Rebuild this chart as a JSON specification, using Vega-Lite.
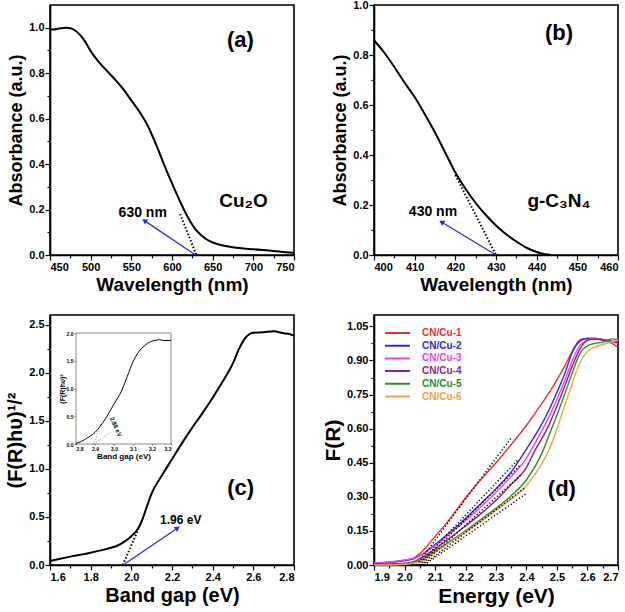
{
  "$schema": "https://vega.github.io/schema/vega-lite/v6.json",
  "background": "white",
  "padding": {"left": 4, "top": -2, "right": 0, "bottom": 0},
  "columns": 2,
  "spacing": {"row": 19, "column": 22},
  "config": {
    "font": "Liberation Sans",
    "view": {"stroke": "black", "strokeWidth": 1.6},
    "axis": {
      "labelFont": "Liberation Sans", "labelFontWeight": "bold", "labelFontSize": 11, "labelColor": "black",
      "titleFont": "Liberation Sans", "titleFontWeight": "bold", "titleColor": "black",
      "domainColor": "black", "domainWidth": 1.6, "tickColor": "black", "tickWidth": 1.2,
      "grid": false, "labelPadding": 1, "titlePadding": 3, "labelOverlap": false
    },
    "text": {"font": "Liberation Sans", "fontWeight": "bold", "color": "black"}
  },
  "concat": [
    {
      "width": 244, "height": 250,
      "encoding": {
        "x": {"field": "x", "type": "quantitative",
          "scale": {"domain": [450, 750], "nice": false, "zero": false},
          "axis": {"title": "Wavelength (nm)", "titleFontSize": 19,
            "values": [450,475,500,525,550,575,600,625,650,675,700,725,750],
            "labelExpr": "datum.value % 50 == 0 ? datum.label : ''",
            "tickSize": {"condition": {"test": "datum.value % 50 == 0", "value": 5}, "value": 3}}},
        "y": {"field": "y", "type": "quantitative",
          "scale": {"domain": [0, 1.1], "nice": false, "zero": false},
          "axis": {"title": "Absorbance (a.u.)", "titleFontSize": 18,
            "values": [0,0.1,0.2,0.3,0.4,0.5,0.6,0.7,0.8,0.9,1.0],
            "labelExpr": "abs(datum.value*5 - round(datum.value*5)) < 0.001 ? format(datum.value, '.1f') : ''",
            "tickSize": {"condition": {"test": "abs(datum.value*5 - round(datum.value*5)) < 0.001", "value": 5}, "value": 3}}}
      },
      "layer": [
        {"data": {"values": [
          {"x":450,"y":0.993},{"x":455,"y":0.992},{"x":460,"y":0.996},{"x":465,"y":0.998},{"x":470,"y":1.0},
          {"x":475,"y":0.998},{"x":480,"y":0.99},{"x":485,"y":0.975},{"x":490,"y":0.955},{"x":495,"y":0.928},
          {"x":500,"y":0.897},{"x":510,"y":0.85},{"x":520,"y":0.81},{"x":530,"y":0.772},{"x":540,"y":0.73},
          {"x":550,"y":0.68},{"x":560,"y":0.63},{"x":570,"y":0.57},{"x":580,"y":0.49},{"x":590,"y":0.4},
          {"x":600,"y":0.315},{"x":610,"y":0.235},{"x":620,"y":0.163},{"x":630,"y":0.108},{"x":640,"y":0.075},
          {"x":650,"y":0.055},{"x":660,"y":0.044},{"x":675,"y":0.034},{"x":700,"y":0.025},{"x":725,"y":0.018},
          {"x":740,"y":0.012},{"x":750,"y":0.01}]},
          "mark": {"type": "line", "color": "black", "strokeWidth": 2, "interpolate": "monotone"}},
        {"data": {"values": [{"x":610,"y":0.18,"x2":630,"y2":0}]},
          "mark": {"type": "rule", "color": "black", "strokeWidth": 2, "strokeDash": [1.5, 2]},
          "encoding": {"x2": {"field": "x2"}, "y2": {"field": "y2"}}},
        {"data": {"values": [{"x":629,"y":0,"x2":567,"y2":0.149}]},
          "mark": {"type": "rule", "color": "#2b2bd9", "strokeWidth": 1.3},
          "encoding": {"x2": {"field": "x2"}, "y2": {"field": "y2"}}},
        {"data": {"values": [{"x":567,"y":0.149}]},
          "mark": {"type": "point", "shape": "triangle", "filled": true, "color": "#2b2bd9", "size": 36, "angle": 304, "opacity": 1}},
        {"data": {"values": [{"x":564,"y":0.186,"t":"630 nm"}]},
          "mark": {"type": "text", "fontSize": 14}, "encoding": {"text": {"field": "t"}}},
        {"data": {"values": [{"x":688,"y":0.237,"t":"Cu₂O"}]},
          "mark": {"type": "text", "fontSize": 19}, "encoding": {"text": {"field": "t"}}},
        {"data": {"values": [{"x":684,"y":0.946,"t":"(a)"}]},
          "mark": {"type": "text", "fontSize": 22}, "encoding": {"text": {"field": "t"}}}
      ]
    },
    {
      "width": 244, "height": 250,
      "encoding": {
        "x": {"field": "x", "type": "quantitative",
          "scale": {"domain": [400, 460], "nice": false, "zero": false},
          "axis": {"title": "Wavelength (nm)", "titleFontSize": 19,
            "values": [400,405,410,415,420,425,430,435,440,445,450,455,460],
            "labelExpr": "datum.value % 10 == 0 ? datum.label : ''",
            "tickSize": {"condition": {"test": "datum.value % 10 == 0", "value": 5}, "value": 3}}},
        "y": {"field": "y", "type": "quantitative",
          "scale": {"domain": [0, 1.0], "nice": false, "zero": false},
          "axis": {"title": "Absorbance (a.u.)", "titleFontSize": 18,
            "values": [0,0.1,0.2,0.3,0.4,0.5,0.6,0.7,0.8,0.9,1.0],
            "labelExpr": "abs(datum.value*5 - round(datum.value*5)) < 0.001 ? format(datum.value, '.1f') : ''",
            "tickSize": {"condition": {"test": "abs(datum.value*5 - round(datum.value*5)) < 0.001", "value": 5}, "value": 3}}}
      },
      "layer": [
        {"data": {"values": [
          {"x":400,"y":0.859},{"x":402.5,"y":0.81},{"x":405,"y":0.752},{"x":407.5,"y":0.69},{"x":410,"y":0.632},
          {"x":412.5,"y":0.563},{"x":415,"y":0.49},{"x":417.5,"y":0.41},{"x":420,"y":0.33},{"x":422.5,"y":0.265},
          {"x":425,"y":0.208},{"x":427.5,"y":0.16},{"x":430,"y":0.118},{"x":432.5,"y":0.083},{"x":435,"y":0.054},
          {"x":437.5,"y":0.029},{"x":440,"y":0.012},{"x":442,"y":0.003},{"x":443.5,"y":0}]},
          "mark": {"type": "line", "color": "black", "strokeWidth": 2, "interpolate": "monotone"}},
        {"data": {"values": [{"x":420,"y":0.32,"x2":430,"y2":0}]},
          "mark": {"type": "rule", "color": "black", "strokeWidth": 2, "strokeDash": [1.5, 2]},
          "encoding": {"x2": {"field": "x2"}, "y2": {"field": "y2"}}},
        {"data": {"values": [{"x":430,"y":0,"x2":416.8,"y2":0.13}]},
          "mark": {"type": "rule", "color": "#2b2bd9", "strokeWidth": 1.3},
          "encoding": {"x2": {"field": "x2"}, "y2": {"field": "y2"}}},
        {"data": {"values": [{"x":416.8,"y":0.13}]},
          "mark": {"type": "point", "shape": "triangle", "filled": true, "color": "#2b2bd9", "size": 36, "angle": 301, "opacity": 1}},
        {"data": {"values": [{"x":414.5,"y":0.172,"t":"430 nm"}]},
          "mark": {"type": "text", "fontSize": 14}, "encoding": {"text": {"field": "t"}}},
        {"data": {"values": [{"x":445.5,"y":0.215,"t":"g-C₃N₄"}]},
          "mark": {"type": "text", "fontSize": 19}, "encoding": {"text": {"field": "t"}}},
        {"data": {"values": [{"x":445.5,"y":0.889,"t":"(b)"}]},
          "mark": {"type": "text", "fontSize": 22}, "encoding": {"text": {"field": "t"}}}
      ]
    },
    {
      "width": 244, "height": 250,
      "layer": [
        {
          "encoding": {
            "x": {"field": "x", "type": "quantitative",
              "scale": {"domain": [1.6, 2.8], "nice": false, "zero": false},
              "axis": {"title": "Band gap (eV)", "titleFontSize": 20, "orient": "bottom",
                "values": [1.6,1.7,1.8,1.9,2.0,2.1,2.2,2.3,2.4,2.5,2.6,2.7,2.8],
                "labelExpr": "abs(datum.value*5 - round(datum.value*5)) < 0.001 ? format(datum.value, '.1f') : ''",
                "tickSize": {"condition": {"test": "abs(datum.value*5 - round(datum.value*5)) < 0.001", "value": 5}, "value": 3}}},
            "y": {"field": "y", "type": "quantitative",
              "scale": {"domain": [0, 2.6], "nice": false, "zero": false},
              "axis": {"title": "(F(R)hυ)¹/²", "titleFontSize": 20, "orient": "left",
                "values": [0,0.25,0.5,0.75,1.0,1.25,1.5,1.75,2.0,2.25,2.5],
                "labelExpr": "abs(datum.value*2 - round(datum.value*2)) < 0.001 ? format(datum.value, '.1f') : ''",
                "tickSize": {"condition": {"test": "abs(datum.value*2 - round(datum.value*2)) < 0.001", "value": 5}, "value": 3}}}
          },
          "layer": [
            {"data": {"values": [
              {"x":1.6,"y":0.042},{"x":1.65,"y":0.065},{"x":1.7,"y":0.087},{"x":1.75,"y":0.107},{"x":1.8,"y":0.128},
              {"x":1.85,"y":0.152},{"x":1.9,"y":0.18},{"x":1.93,"y":0.2},{"x":1.96,"y":0.235},{"x":2.0,"y":0.3},
              {"x":2.03,"y":0.37},{"x":2.05,"y":0.45},{"x":2.075,"y":0.6},{"x":2.1,"y":0.745},{"x":2.15,"y":0.93},
              {"x":2.2,"y":1.1},{"x":2.25,"y":1.27},{"x":2.3,"y":1.43},{"x":2.35,"y":1.58},{"x":2.4,"y":1.74},
              {"x":2.45,"y":1.91},{"x":2.5,"y":2.1},{"x":2.53,"y":2.25},{"x":2.56,"y":2.36},{"x":2.58,"y":2.4},
              {"x":2.6,"y":2.415},{"x":2.65,"y":2.42},{"x":2.7,"y":2.43},{"x":2.75,"y":2.41},{"x":2.78,"y":2.4},
              {"x":2.8,"y":2.385}]},
              "mark": {"type": "line", "color": "black", "strokeWidth": 2, "interpolate": "monotone"}},
            {"data": {"values": [{"x":1.958,"y":0,"x2":2.04,"y2":0.4}]},
              "mark": {"type": "rule", "color": "black", "strokeWidth": 2, "strokeDash": [1.5, 2]},
              "encoding": {"x2": {"field": "x2"}, "y2": {"field": "y2"}}},
            {"data": {"values": [{"x":1.96,"y":0,"x2":2.224,"y2":0.38}]},
              "mark": {"type": "rule", "color": "#2b2bd9", "strokeWidth": 1.3},
              "encoding": {"x2": {"field": "x2"}, "y2": {"field": "y2"}}},
            {"data": {"values": [{"x":2.224,"y":0.38}]},
              "mark": {"type": "point", "shape": "triangle", "filled": true, "color": "#2b2bd9", "size": 36, "angle": 56, "opacity": 1}},
            {"data": {"values": [{"x":2.243,"y":0.47,"t":"1.96 eV"}]},
              "mark": {"type": "text", "fontSize": 12}, "encoding": {"text": {"field": "t"}}},
            {"data": {"values": [{"x":2.538,"y":0.8,"t":"(c)"}]},
              "mark": {"type": "text", "fontSize": 22}, "encoding": {"text": {"field": "t"}}}
          ]
        },
        {
          "encoding": {
            "x": {"field": "ix", "type": "quantitative",
              "scale": {"domain": [2.8, 3.3], "nice": false, "zero": false, "range": [26, 121]},
              "axis": {"title": "Band gap (eV)", "titleFontSize": 8, "orient": "bottom", "offset": -122,
                "values": [2.8,2.9,3.0,3.1,3.2,3.3], "format": ".1f", "labelFontSize": 5, "tickSize": 2,
                "tickColor": "#777", "domain": false, "labelPadding": 1, "titlePadding": 1}},
            "y": {"field": "iy", "type": "quantitative",
              "scale": {"domain": [0, 2.0], "nice": false, "zero": false, "range": [129, 18]},
              "axis": {"title": "(F(R)hυ)²", "titleFontSize": 7, "orient": "left", "offset": -26,
                "values": [0,0.5,1.0,1.5,2.0], "format": ".1f", "labelFontSize": 5, "tickSize": 2,
                "tickColor": "#777", "domain": false, "labelPadding": 1, "titlePadding": 1}}
          },
          "layer": [
            {"data": {"values": [{"ix":2.8,"iy":0,"ix2":3.3,"iy2":2.0}]},
              "mark": {"type": "rect", "fill": "white", "stroke": "#888", "strokeWidth": 1},
              "encoding": {"x2": {"field": "ix2"}, "y2": {"field": "iy2"}}},
            {"data": {"values": [
              {"ix":2.8,"iy":0.01},{"ix":2.83,"iy":0.05},{"ix":2.86,"iy":0.11},{"ix":2.9,"iy":0.21},{"ix":2.95,"iy":0.43},
              {"ix":3.0,"iy":0.72},{"ix":3.04,"iy":0.96},{"ix":3.07,"iy":1.22},{"ix":3.1,"iy":1.48},{"ix":3.13,"iy":1.66},
              {"ix":3.16,"iy":1.77},{"ix":3.19,"iy":1.84},{"ix":3.22,"iy":1.87},{"ix":3.24,"iy":1.88},{"ix":3.26,"iy":1.865},
              {"ix":3.3,"iy":1.865}]},
              "mark": {"type": "line", "color": "black", "strokeWidth": 1, "interpolate": "monotone"}},
            {"data": {"values": [{"ix":2.895,"iy":0,"ix2":2.93,"iy2":0.37},{"ix":2.895,"iy":0,"ix2":2.984,"iy2":0.22}]},
              "mark": {"type": "rule", "color": "#777", "strokeWidth": 0.8, "strokeDash": [1, 1.5]},
              "encoding": {"x2": {"field": "ix2"}, "y2": {"field": "iy2"}}},
            {"data": {"values": [{"ix":3.01,"iy":0.31,"t":"2.88 eV"}]},
              "mark": {"type": "text", "fontSize": 6, "angle": 65}, "encoding": {"text": {"field": "t"}}}
          ]
        }
      ],
      "resolve": {"scale": {"x": "independent", "y": "independent"}, "axis": {"x": "independent", "y": "independent"}}
    },
    {
      "width": 244, "height": 250,
      "encoding": {
        "x": {"field": "x", "type": "quantitative",
          "scale": {"domain": [1.9, 2.7], "nice": false, "zero": false},
          "axis": {"title": "Energy (eV)", "titleFontSize": 21,
            "values": [1.9,1.95,2.0,2.05,2.1,2.15,2.2,2.25,2.3,2.35,2.4,2.45,2.5,2.55,2.6,2.65,2.7],
            "labelExpr": "abs(datum.value*10 - round(datum.value*10)) < 0.001 ? format(datum.value, '.1f') : ''",
            "tickSize": {"condition": {"test": "abs(datum.value*10 - round(datum.value*10)) < 0.001", "value": 5}, "value": 3}}},
        "y": {"field": "y", "type": "quantitative",
          "scale": {"domain": [0, 1.1], "nice": false, "zero": false},
          "axis": {"title": "F(R)", "titleFontSize": 21,
            "values": [0,0.075,0.15,0.225,0.3,0.375,0.45,0.525,0.6,0.675,0.75,0.825,0.9,0.975,1.05],
            "labelExpr": "abs(datum.value/0.15 - round(datum.value/0.15)) < 0.001 ? format(datum.value, '.2f') : ''",
            "tickSize": {"condition": {"test": "abs(datum.value/0.15 - round(datum.value/0.15)) < 0.001", "value": 5}, "value": 3}}}
      },
      "layer": [
        {"data": {"values": [
          {"s":"CN/Cu-1","x":1.9,"y":0.008},{"s":"CN/Cu-1","x":1.95,"y":0.012},{"s":"CN/Cu-1","x":2.0,"y":0.02},{"s":"CN/Cu-1","x":2.03,"y":0.03},
          {"s":"CN/Cu-1","x":2.05,"y":0.05},{"s":"CN/Cu-1","x":2.075,"y":0.085},{"s":"CN/Cu-1","x":2.1,"y":0.125},{"s":"CN/Cu-1","x":2.15,"y":0.205},
          {"s":"CN/Cu-1","x":2.2,"y":0.295},{"s":"CN/Cu-1","x":2.25,"y":0.375},{"s":"CN/Cu-1","x":2.3,"y":0.45},{"s":"CN/Cu-1","x":2.35,"y":0.53},
          {"s":"CN/Cu-1","x":2.4,"y":0.615},{"s":"CN/Cu-1","x":2.45,"y":0.71},{"s":"CN/Cu-1","x":2.5,"y":0.815},{"s":"CN/Cu-1","x":2.525,"y":0.875},
          {"s":"CN/Cu-1","x":2.55,"y":0.94},{"s":"CN/Cu-1","x":2.57,"y":0.985},{"s":"CN/Cu-1","x":2.585,"y":0.996},{"s":"CN/Cu-1","x":2.62,"y":0.995},
          {"s":"CN/Cu-1","x":2.65,"y":0.99},{"s":"CN/Cu-1","x":2.68,"y":0.975},{"s":"CN/Cu-1","x":2.7,"y":0.958},
          {"s":"CN/Cu-2","x":1.9,"y":0.008},{"s":"CN/Cu-2","x":1.95,"y":0.012},{"s":"CN/Cu-2","x":2.0,"y":0.02},{"s":"CN/Cu-2","x":2.03,"y":0.027},
          {"s":"CN/Cu-2","x":2.05,"y":0.04},{"s":"CN/Cu-2","x":2.1,"y":0.09},{"s":"CN/Cu-2","x":2.15,"y":0.145},{"s":"CN/Cu-2","x":2.2,"y":0.205},
          {"s":"CN/Cu-2","x":2.25,"y":0.27},{"s":"CN/Cu-2","x":2.3,"y":0.335},{"s":"CN/Cu-2","x":2.35,"y":0.41},{"s":"CN/Cu-2","x":2.4,"y":0.51},
          {"s":"CN/Cu-2","x":2.45,"y":0.62},{"s":"CN/Cu-2","x":2.475,"y":0.685},{"s":"CN/Cu-2","x":2.5,"y":0.76},{"s":"CN/Cu-2","x":2.525,"y":0.84},
          {"s":"CN/Cu-2","x":2.55,"y":0.935},{"s":"CN/Cu-2","x":2.575,"y":0.985},{"s":"CN/Cu-2","x":2.6,"y":0.998},{"s":"CN/Cu-2","x":2.65,"y":0.993},
          {"s":"CN/Cu-2","x":2.7,"y":0.978},
          {"s":"CN/Cu-3","x":1.9,"y":0.01},{"s":"CN/Cu-3","x":1.95,"y":0.013},{"s":"CN/Cu-3","x":2.0,"y":0.022},{"s":"CN/Cu-3","x":2.03,"y":0.03},
          {"s":"CN/Cu-3","x":2.05,"y":0.04},{"s":"CN/Cu-3","x":2.1,"y":0.085},{"s":"CN/Cu-3","x":2.15,"y":0.14},{"s":"CN/Cu-3","x":2.2,"y":0.195},
          {"s":"CN/Cu-3","x":2.25,"y":0.255},{"s":"CN/Cu-3","x":2.3,"y":0.32},{"s":"CN/Cu-3","x":2.35,"y":0.39},{"s":"CN/Cu-3","x":2.4,"y":0.47},
          {"s":"CN/Cu-3","x":2.425,"y":0.53},{"s":"CN/Cu-3","x":2.45,"y":0.59},{"s":"CN/Cu-3","x":2.475,"y":0.655},{"s":"CN/Cu-3","x":2.5,"y":0.73},
          {"s":"CN/Cu-3","x":2.525,"y":0.81},{"s":"CN/Cu-3","x":2.55,"y":0.9},{"s":"CN/Cu-3","x":2.575,"y":0.965},{"s":"CN/Cu-3","x":2.6,"y":0.99},
          {"s":"CN/Cu-3","x":2.625,"y":0.998},{"s":"CN/Cu-3","x":2.65,"y":0.99},{"s":"CN/Cu-3","x":2.7,"y":0.975},
          {"s":"CN/Cu-4","x":1.9,"y":0.003},{"s":"CN/Cu-4","x":1.95,"y":0.005},{"s":"CN/Cu-4","x":2.0,"y":0.008},{"s":"CN/Cu-4","x":2.03,"y":0.015},
          {"s":"CN/Cu-4","x":2.05,"y":0.028},{"s":"CN/Cu-4","x":2.1,"y":0.07},{"s":"CN/Cu-4","x":2.15,"y":0.12},{"s":"CN/Cu-4","x":2.2,"y":0.172},
          {"s":"CN/Cu-4","x":2.25,"y":0.225},{"s":"CN/Cu-4","x":2.3,"y":0.285},{"s":"CN/Cu-4","x":2.35,"y":0.355},{"s":"CN/Cu-4","x":2.4,"y":0.43},
          {"s":"CN/Cu-4","x":2.43,"y":0.51},{"s":"CN/Cu-4","x":2.45,"y":0.555},{"s":"CN/Cu-4","x":2.475,"y":0.62},{"s":"CN/Cu-4","x":2.5,"y":0.7},
          {"s":"CN/Cu-4","x":2.525,"y":0.785},{"s":"CN/Cu-4","x":2.55,"y":0.875},{"s":"CN/Cu-4","x":2.575,"y":0.95},{"s":"CN/Cu-4","x":2.6,"y":0.988},
          {"s":"CN/Cu-4","x":2.625,"y":0.995},{"s":"CN/Cu-4","x":2.65,"y":0.99},{"s":"CN/Cu-4","x":2.7,"y":0.98},
          {"s":"CN/Cu-5","x":1.9,"y":0.0},{"s":"CN/Cu-5","x":1.95,"y":0.002},{"s":"CN/Cu-5","x":2.0,"y":0.005},{"s":"CN/Cu-5","x":2.03,"y":0.01},
          {"s":"CN/Cu-5","x":2.05,"y":0.02},{"s":"CN/Cu-5","x":2.1,"y":0.06},{"s":"CN/Cu-5","x":2.15,"y":0.105},{"s":"CN/Cu-5","x":2.2,"y":0.15},
          {"s":"CN/Cu-5","x":2.25,"y":0.2},{"s":"CN/Cu-5","x":2.3,"y":0.25},{"s":"CN/Cu-5","x":2.35,"y":0.305},{"s":"CN/Cu-5","x":2.4,"y":0.375},
          {"s":"CN/Cu-5","x":2.45,"y":0.49},{"s":"CN/Cu-5","x":2.475,"y":0.575},{"s":"CN/Cu-5","x":2.5,"y":0.66},{"s":"CN/Cu-5","x":2.525,"y":0.75},
          {"s":"CN/Cu-5","x":2.55,"y":0.845},{"s":"CN/Cu-5","x":2.575,"y":0.93},{"s":"CN/Cu-5","x":2.6,"y":0.965},{"s":"CN/Cu-5","x":2.625,"y":0.975},
          {"s":"CN/Cu-5","x":2.65,"y":0.98},{"s":"CN/Cu-5","x":2.68,"y":0.995},{"s":"CN/Cu-5","x":2.7,"y":0.99},
          {"s":"CN/Cu-6","x":1.9,"y":0.0},{"s":"CN/Cu-6","x":1.95,"y":0.0},{"s":"CN/Cu-6","x":2.0,"y":0.003},{"s":"CN/Cu-6","x":2.03,"y":0.008},
          {"s":"CN/Cu-6","x":2.05,"y":0.016},{"s":"CN/Cu-6","x":2.1,"y":0.055},{"s":"CN/Cu-6","x":2.15,"y":0.1},{"s":"CN/Cu-6","x":2.2,"y":0.145},
          {"s":"CN/Cu-6","x":2.25,"y":0.19},{"s":"CN/Cu-6","x":2.3,"y":0.24},{"s":"CN/Cu-6","x":2.35,"y":0.29},{"s":"CN/Cu-6","x":2.4,"y":0.35},
          {"s":"CN/Cu-6","x":2.45,"y":0.445},{"s":"CN/Cu-6","x":2.475,"y":0.51},{"s":"CN/Cu-6","x":2.5,"y":0.6},{"s":"CN/Cu-6","x":2.525,"y":0.7},
          {"s":"CN/Cu-6","x":2.55,"y":0.8},{"s":"CN/Cu-6","x":2.575,"y":0.89},{"s":"CN/Cu-6","x":2.6,"y":0.94},{"s":"CN/Cu-6","x":2.625,"y":0.96},
          {"s":"CN/Cu-6","x":2.65,"y":0.97},{"s":"CN/Cu-6","x":2.7,"y":0.99}]},
          "mark": {"type": "line", "strokeWidth": 1.4, "interpolate": "monotone"},
          "encoding": {
            "color": {"field": "s", "type": "nominal",
              "scale": {"domain": ["CN/Cu-1","CN/Cu-2","CN/Cu-3","CN/Cu-4","CN/Cu-5","CN/Cu-6"],
                        "range": ["#e8302b","#2a2ae6","#f03cf0","#8a1f8a","#2e8b2e","#f5a043"]},
              "legend": {"title": null, "orient": "none", "legendX": 334, "legendY": 322,
                "symbolType": "stroke", "symbolSize": 625, "symbolStrokeWidth": 2, "clipHeight": 12,
                "labelFont": "Liberation Sans", "labelFontWeight": "bold", "labelFontSize": 10,
                "labelOffset": 11, "rowPadding": 0.7, "padding": 0,
                "encode": {"labels": {"update": {"fill": {"signal": "datum.value == 'CN/Cu-1' ? '#e8302b' : datum.value == 'CN/Cu-2' ? '#2a2ae6' : datum.value == 'CN/Cu-3' ? '#f03cf0' : datum.value == 'CN/Cu-4' ? '#8a1f8a' : datum.value == 'CN/Cu-5' ? '#2e8b2e' : '#f5a043'"}}}}
              }
            }
          }
        },
        {"data": {"values": [
          {"x":2.04,"y":0,"x2":2.35,"y2":0.56},{"x":2.045,"y":0,"x2":2.37,"y2":0.46},{"x":2.05,"y":0,"x2":2.38,"y2":0.44},
          {"x":2.055,"y":0,"x2":2.385,"y2":0.4},{"x":2.06,"y":0,"x2":2.395,"y2":0.34},{"x":2.065,"y":0,"x2":2.4,"y2":0.315}]},
          "mark": {"type": "rule", "color": "black", "strokeWidth": 1.5, "strokeDash": [1.2, 2.2]},
          "encoding": {"x2": {"field": "x2"}, "y2": {"field": "y2"}}},
        {"data": {"values": [{"x":2.516,"y":0.334,"t":"(d)"}]},
          "mark": {"type": "text", "fontSize": 22}, "encoding": {"text": {"field": "t"}}}
      ]
    }
  ]
}
